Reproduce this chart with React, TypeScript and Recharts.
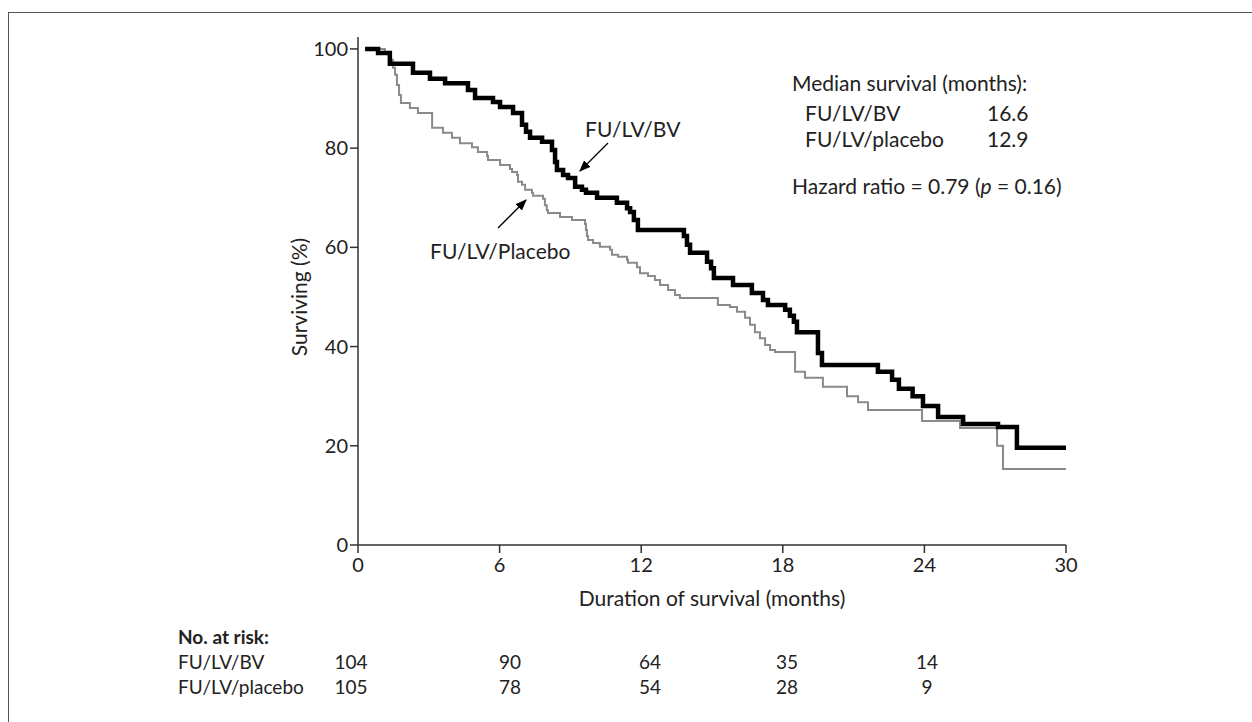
import React from 'react'
import { LineChart, Line, XAxis, YAxis } from 'recharts'

// Kaplan-Meier estimates (months, % surviving)
const bvMonths = [
  0.3, 0.85, 1.35, 2.33, 3.05, 3.69, 4.66, 4.96, 5.72, 6.02,
  6.57, 6.95, 7.12, 7.29, 7.8, 8.22, 8.35, 8.43, 8.69, 8.9,
  9.2, 9.49, 9.66, 10.13, 10.97, 11.4, 11.53, 11.69, 11.86, 13.81,
  13.94, 14.07, 14.79, 14.96, 15.08, 15.89, 16.69, 17.16, 17.37, 18.1,
  18.3, 18.47, 18.6, 19.49, 19.66, 22.03, 22.63, 22.92, 23.5, 23.94,
  24.58, 25.64, 27.12, 27.92, 30,
]
const bvSurvival = [
  100, 99.2, 97, 95.2, 94, 93.1, 91.7, 90.1, 89.3, 88.3,
  87.1, 84.7, 83.3, 82.1, 81.3, 79.6, 77.2, 75.6, 74.6, 74.0,
  72.2, 71.6, 71.0, 70.0, 69.0, 67.9, 67.1, 65.5, 63.5, 62.3,
  60.5, 58.9, 57.1, 55.8, 53.8, 52.4, 50.8, 49.4, 48.4, 47.4,
  46.2, 45.0, 42.9, 38.7, 36.3, 34.9, 33.3, 31.5, 30.0, 28.0,
  25.8, 24.4, 23.8, 19.6, 19.6,
]

const placeboMonths = [
  0.3, 1.14, 1.36, 1.48, 1.57, 1.65, 1.74, 1.82, 2.2, 2.54,
  3.14, 3.6, 3.98, 4.32, 4.83, 5.08, 5.47, 5.51, 6.02, 6.44,
  6.53, 6.74, 6.78, 6.95, 7.08, 7.37, 7.42, 7.84, 7.92, 8.0,
  8.05, 8.56, 9.07, 9.62, 9.66, 9.7, 9.75, 9.96, 10.25, 10.68,
  10.76, 11.02, 11.4, 11.44, 11.82, 11.95, 12.29, 12.58, 12.8, 13.14,
  13.43, 13.64, 15.25, 15.76, 16.06, 16.4, 16.61, 16.82, 17.03, 17.25,
  17.46, 17.67, 18.52, 18.94, 19.7, 20.72, 21.19, 21.61, 23.9, 25.51,
  27.08, 27.33, 30,
]
const placeboSurvival = [
  100, 99.2, 97.8, 96.2, 94.8, 92.7, 90.7, 89.1, 88.1, 87.1,
  84.1, 83.1, 82.1, 81.0, 80.2, 79.2, 78.4, 77.6, 76.6, 75.8,
  75.2, 74.6, 73.2, 72.6, 71.6, 71.0, 70.4, 69.8, 68.5, 67.5,
  66.9, 66.1, 65.5, 64.7, 63.5, 62.3, 61.5, 60.9, 60.1, 59.5,
  58.5, 58.1, 57.5, 56.9, 56.0, 54.8, 54.2, 53.4, 52.4, 51.4,
  50.4, 49.8, 48.4, 48.0, 47.0, 45.8, 44.4, 42.9, 41.7, 40.3,
  39.3, 38.9, 34.9, 33.7, 31.9, 30.0, 28.8, 27.2, 25.0, 23.6,
  20.0, 15.3, 15.3,
]

const xTicks = [0, 6, 12, 18, 24, 30]
const yTicks = [0, 20, 40, 60, 80, 100]

const riskLabels = ['FU/LV/BV', 'FU/LV/placebo']
const riskBV = [104, 90, 64, 35, 14]
const riskPlacebo = [105, 78, 54, 28, 9]
const medianLabels = ['FU/LV/BV', 'FU/LV/placebo']
const medianValues = ['16.6', '12.9']

const FONT = 'Lato, "Open Sans", sans-serif'
const INK = '#222'

const bvData = bvMonths.map((m, i) => ({ month: m, survival: bvSurvival[i] }))
const placeboData = placeboMonths.map((m, i) => ({ month: m, survival: placeboSurvival[i] }))

// column centres of the at-risk table
const riskCols = [351, 510, 650, 787, 927]

function T({ x, y, children, anchor = 'start', bold = false, size = 21 }: any) {
  const tx = anchor === 'middle' ? '-50%' : anchor === 'end' ? '-100%' : '0'
  return (
    <div
      style={{
        position: 'absolute',
        left: x,
        top: y,
        transform: `translate(${tx}, -50%)`,
        fontFamily: FONT,
        fontSize: size,
        fontWeight: bold ? 700 : 400,
        color: INK,
        lineHeight: 1,
        whiteSpace: 'nowrap',
      }}
    >
      {children}
    </div>
  )
}

export default function App() {
  return (
    <div style={{ position: 'absolute', left: 0, top: 0, width: 1252, height: 722, overflow: 'hidden', background: '#fff' }}>
      <div
        style={{
          position: 'absolute',
          left: 8,
          top: 12,
          width: 1400,
          height: 900,
          borderTop: '1.5px solid #555',
          borderLeft: '1.5px solid #555',
        }}
      />
      <div style={{ position: 'absolute', left: 0, top: 0 }}>
        <LineChart width={1252} height={722} margin={{ top: 37, right: 186, bottom: 147, left: 298 }}>
          <XAxis
            type="number"
            dataKey="month"
            domain={[0, 30]}
            ticks={xTicks}
            allowDuplicatedCategory={false}
            height={30}
            tickSize={8}
            tickMargin={5}
            stroke="#333"
            strokeWidth={1.5}
            tick={{ fontFamily: FONT, fontSize: 20, fill: INK }}
          />
          <YAxis
            type="number"
            dataKey="survival"
            domain={[0, 102.4]}
            ticks={yTicks}
            width={60}
            tickSize={8}
            tickMargin={2}
            stroke="#333"
            strokeWidth={1.5}
            tick={{ fontFamily: FONT, fontSize: 20, fill: INK }}
          />
          <Line
            data={placeboData}
            dataKey="survival"
            type="stepAfter"
            stroke="#8a8a8a"
            strokeWidth={2}
            dot={false}
            activeDot={false}
            isAnimationActive={false}
          />
          <Line
            data={bvData}
            dataKey="survival"
            type="stepAfter"
            stroke="#000"
            strokeWidth={4.5}
            dot={false}
            activeDot={false}
            isAnimationActive={false}
          />
        </LineChart>
      </div>

      {/* arrows pointing at the curves */}
      <svg width={1252} height={722} style={{ position: 'absolute', left: 0, top: 0 }}>
        <defs>
          <marker id="ah" viewBox="0 0 10 10" refX="9" refY="5" markerWidth="9" markerHeight="9" orient="auto">
            <path d="M0,1 L10,5 L0,9 z" fill="#000" />
          </marker>
        </defs>
        <line x1={608} y1={143} x2={580} y2={171} stroke="#000" strokeWidth={1.3} markerEnd="url(#ah)" />
        <line x1={498} y1={228} x2={526} y2={200} stroke="#000" strokeWidth={1.3} markerEnd="url(#ah)" />
      </svg>

      <T x={585} y={128}>FU/LV/BV</T>
      <T x={430} y={250}>FU/LV/Placebo</T>

      <div
        style={{
          position: 'absolute',
          left: 298,
          top: 297,
          transform: 'translate(-50%, -50%) rotate(-90deg)',
          fontFamily: FONT,
          fontSize: 21,
          color: INK,
          lineHeight: 1,
          whiteSpace: 'nowrap',
        }}
      >
        Surviving (%)
      </div>
      <T x={712} y={597} anchor="middle">Duration of survival (months)</T>

      <T x={792} y={82}>Median survival (months):</T>
      {medianLabels.map((l, i) => (
        <React.Fragment key={l}>
          <T x={805} y={112 + i * 26}>{l}</T>
          <T x={987} y={112 + i * 26}>{medianValues[i]}</T>
        </React.Fragment>
      ))}
      <T x={792} y={185}>
        Hazard ratio&nbsp;= 0.79 (<i>p</i>&nbsp;= 0.16)
      </T>

      <T x={178} y={636} bold size={19}>No. at risk:</T>
      {[riskBV, riskPlacebo].map((row, r) => (
        <React.Fragment key={r}>
          <T x={178} y={661 + r * 25} size={19}>{riskLabels[r]}</T>
          {row.map((n, c) => (
            <T key={c} x={riskCols[c]} y={661 + r * 25} anchor="middle" size={19}>{n}</T>
          ))}
        </React.Fragment>
      ))}
    </div>
  )
}
